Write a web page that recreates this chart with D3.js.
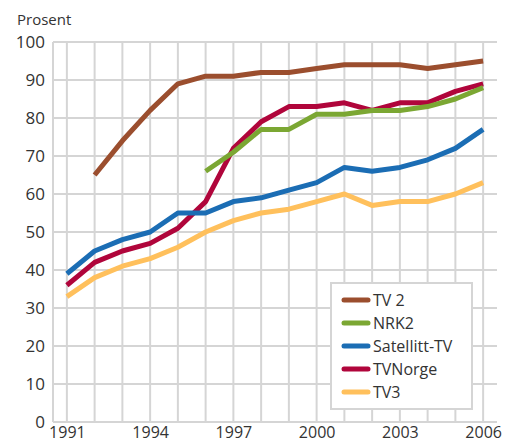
<!DOCTYPE html>
<html>
<head>
<meta charset="utf-8">
<script src="https://cdn.jsdelivr.net/npm/d3@7"></script>
<style>
  body { margin: 0; background: #fff; }
  text { font-family: "Open Sans", "Noto Sans", sans-serif; fill: #333; }
</style>
</head>
<body>
<svg width="513" height="446"></svg>
<script>
var years = d3.range(1991, 2007);
var yTicks = [0, 10, 20, 30, 40, 50, 60, 70, 80, 90, 100];
var xTicks = [1991, 1994, 1997, 2000, 2003, 2006];

// null = no value that year
var tv2 = [null, 65, 74, 82, 89, 91, 91, 92, 92, 93, 94, 94, 94, 93, 94, 95];
var nrk2 = [null, null, null, null, null, 66, 71, 77, 77, 81, 81, 82, 82, 83, 85, 88];
var satellitt = [39, 45, 48, 50, 55, 55, 58, 59, 61, 63, 67, 66, 67, 69, 72, 77];
var tvnorge = [36, 42, 45, 47, 51, 58, 72, 79, 83, 83, 84, 82, 84, 84, 87, 89];
var tv3 = [33, 38, 41, 43, 46, 50, 53, 55, 56, 58, 60, 57, 58, 58, 60, 63];

var seriesNames = ["TV 2", "NRK2", "Satellitt-TV", "TVNorge", "TV3"];
var seriesColors = ["#9b4e2e", "#7ba733", "#1b6db4", "#b0053b", "#ffc05c"];
var seriesValues = [tv2, nrk2, satellitt, tvnorge, tv3];

var svg = d3.select("svg");

var x = d3.scaleLinear().domain([1990.5, 2006.5]).range([53, 497]);
var y = d3.scaleLinear().domain([0, 100]).range([422, 42]);

// grid
var grid = svg.append("g");
grid.selectAll(".vg")
    .data(years)
    .enter()
    .append("line")
    .attr("x1", function(d) { return x(d); })
    .attr("x2", function(d) { return x(d); })
    .attr("y1", y(100))
    .attr("y2", y(0))
    .attr("stroke", "#d5d5d5")
    .attr("stroke-width", 2);
grid.selectAll(".hg")
    .data(yTicks)
    .enter()
    .append("line")
    .attr("x1", x.range()[0])
    .attr("x2", x.range()[1])
    .attr("y1", function(d) { return y(d); })
    .attr("y2", function(d) { return y(d); })
    .attr("stroke", "#d5d5d5")
    .attr("stroke-width", 2);
// left edge
grid.append("line")
    .attr("x1", x.range()[0]).attr("x2", x.range()[0])
    .attr("y1", y(100)).attr("y2", y(0))
    .attr("stroke", "#d5d5d5").attr("stroke-width", 2);

// axes with d3 (only labels shown)
var yAxis = d3.axisLeft(y).tickValues(yTicks).tickSize(0).tickPadding(6);
svg.append("g")
    .attr("transform", "translate(" + (x.range()[0] - 2) + ",0)")
    .call(yAxis)
    .call(function(g) { g.select(".domain").remove(); })
    .selectAll("text")
    .attr("font-size", "17px")
    .attr("fill", "#333")
    .style("font-family", "'Open Sans', sans-serif");

var xAxis = d3.axisBottom(x).tickValues(xTicks).tickFormat(d3.format("d")).tickSize(0).tickPadding(5);
svg.append("g")
    .attr("transform", "translate(0," + y(0) + ")")
    .call(xAxis)
    .call(function(g) { g.select(".domain").remove(); })
    .selectAll("text")
    .attr("font-size", "16px")
    .attr("fill", "#333")
    .style("font-family", "'Open Sans', sans-serif");

svg.append("text")
    .attr("x", 17)
    .attr("y", 25)
    .attr("font-size", "15px")
    .text("Prosent");

// lines
var line = d3.line()
    .defined(function(d) { return d != null; })
    .x(function(d, i) { return x(years[i]); })
    .y(function(d) { return y(d); });

// draw in reverse legend order so TV 2 ends up on top
for (var k = seriesValues.length - 1; k >= 0; k--) {
    svg.append("path")
        .datum(seriesValues[k])
        .attr("d", line)
        .attr("fill", "none")
        .attr("stroke", seriesColors[k])
        .attr("stroke-width", 5)
        .attr("stroke-linejoin", "round");
}

// legend
var legend = svg.append("g").attr("transform", "translate(331,283)");
legend.append("rect")
    .attr("width", 141)
    .attr("height", 126)
    .attr("fill", "#fff")
    .attr("stroke", "#d5d5d5")
    .attr("stroke-width", 2);
var items = legend.selectAll(".item")
    .data(seriesNames)
    .enter()
    .append("g")
    .attr("transform", function(d, i) { return "translate(0," + (17 + i * 23) + ")"; });
items.append("line")
    .attr("x1", 13).attr("x2", 37)
    .attr("stroke", function(d, i) { return seriesColors[i]; })
    .attr("stroke-width", 5)
    .attr("stroke-linecap", "round");
items.append("text")
    .attr("x", 42)
    .attr("y", 6)
    .attr("font-size", "16px")
    .text(function(d) { return d; });
</script>
</body>
</html>
